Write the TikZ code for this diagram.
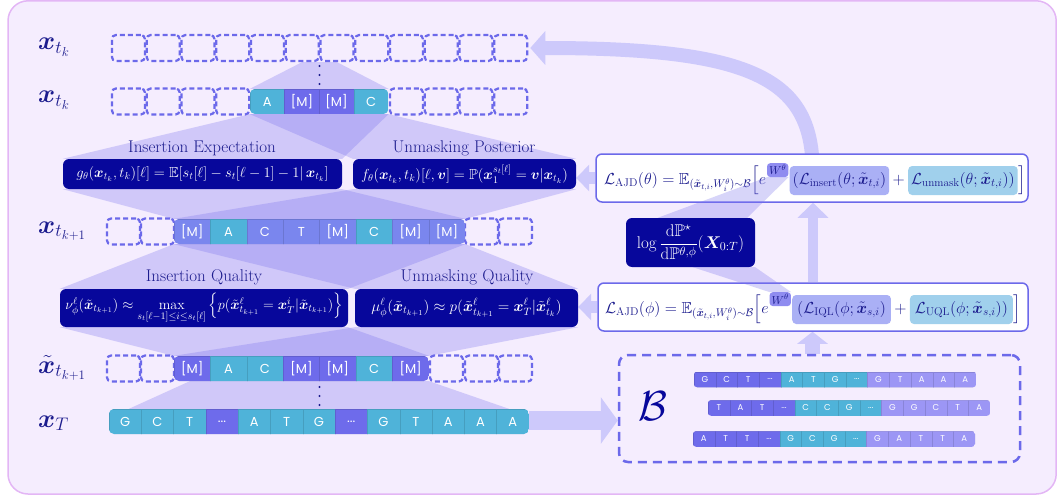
\RequirePackage{fix-cm}
\documentclass[tikz,border=0pt]{standalone}
\usepackage{amsmath,amssymb,bm}
\usepackage{fontspec}
\newfontfamily\tokfont{Poppins}
\usetikzlibrary{arrows.meta,calc}
\definecolor{bgfill}{HTML}{F5EDFE}
\definecolor{bgline}{HTML}{E3B6F5}
\definecolor{navy}{HTML}{07079B}
\definecolor{ink}{HTML}{1C1C8E}
\definecolor{dashc}{HTML}{6C69EA}
\definecolor{tokM}{HTML}{6E6BEB}
\definecolor{tokC}{HTML}{4FB3D9}
\definecolor{tokN}{HTML}{7A86EE}
\definecolor{tokL}{HTML}{9C96F5}
\definecolor{conec}{HTML}{7C75EE}
\definecolor{arrc}{HTML}{CDC9FB}
\definecolor{hlW}{HTML}{8F8CF0}
\definecolor{hlI}{HTML}{AAB0F5}
\definecolor{hlU}{HTML}{A0D0EC}
\pgfdeclarelayer{back}
\pgfdeclarelayer{mid}
\pgfsetlayers{back,mid,main}
\newcommand\eli{...}
\newcommand\tokblock[8]{% name, x0, yc, w, h, n, radius, list
  \begin{scope}
    \clip[rounded corners=#7pt] (#2,#3-#5/2) rectangle ++(#6*#4,#5);
    \foreach[count=\i] \col/\txt in {#8}{
      \node[tok, fill=\col, draw=\col!88!black, minimum width=#4pt, minimum height=#5pt] (#1-\i) at (#2+#4*\i-#4/2, #3) {\txt};
    }
  \end{scope}}
\begin{document}
\begin{tikzpicture}[x=1pt,y=-1pt,
  dbox/.style={draw=dashc, line width=2.2pt, dash pattern=on 5pt off 3pt, rounded corners=4pt, minimum width=33pt, minimum height=26pt, inner sep=0pt},
  tok/.style={inner sep=0pt, line width=0.3pt, text=white, font=\tokfont\fontsize{13}{13}\selectfont},
  darkbox/.style={fill=navy, rounded corners=6pt, text=white, inner sep=0pt, font=\fontsize{14.5}{17}\selectfont},
  cone/.style={fill=conec, fill opacity=0.3},
  lab/.style={text=ink, font=\fontsize{17}{20}\selectfont, inner sep=0pt},
  rowlab/.style={text=ink, font=\fontsize{26}{30}\selectfont, anchor=base west, inner sep=0pt},
  lossbox/.style={draw=dashc, line width=1.5pt, fill=white, rounded corners=6pt, inner sep=0pt},
  fml/.style={text=ink, font=\fontsize{16}{19}\selectfont, inner sep=0pt, anchor=base west},
  hl/.style={rounded corners=4pt, inner xsep=3pt, inner ysep=3pt, text height=15pt, text depth=8pt},
  wsup/.style={text=ink, font=\fontsize{11.5}{13}\selectfont, anchor=base west, fill=hlW, rounded corners=3pt, inner sep=2pt},
  bigarr/.style={draw=arrc},
  dotc/.style={fill=ink, circle, inner sep=0pt, minimum size=2.4pt}
]
\useasboundingbox (0,0) rectangle (1057,500);
\begin{pgfonlayer}{back}
  \fill[bgfill, draw=bgline, line width=1.5pt, rounded corners=20pt] (8,0.8) rectangle (1056.2,494);
\end{pgfonlayer}

% ---------- rows ----------
\foreach \i in {0,...,11} \node[dbox] (ra\i) at (128.4+34.75*\i, 48) {};
\foreach \i in {0,1,2,3,8,9,10,11} \node[dbox] (rb\i) at (128.4+34.75*\i, 101.5) {};
\tokblock{rbt}{250}{101.5}{34.6}{25}{4}{5}{tokC/A, tokM/{[M]}, tokM/{[M]}, tokC/C}

\foreach \x [count=\i] in {123.5,157.5,481.5,515.5} \node[dbox] (rc\i) at (\x, 231.5) {};
\tokblock{rct}{174}{231.5}{36.4}{25}{8}{5}{tokN/{[M]}, tokC/A, tokN/C, tokN/T, tokN/{[M]}, tokC/C, tokN/{[M]}, tokN/{[M]}}

\foreach \x [count=\i] in {123.5,157.5,446.5,481.5,515.5} \node[dbox] (rd\i) at (\x, 368.5) {};
\tokblock{rdt}{174}{368.5}{36.4}{25}{7}{5}{tokM/{[M]}, tokC/A, tokC/C, tokM/{[M]}, tokM/{[M]}, tokC/C, tokM/{[M]}}

\tokblock{re}{109}{421.5}{32.3}{25}{13}{5}{tokC/G, tokC/C, tokC/T, tokM/\eli, tokC/A, tokC/T, tokC/G, tokM/\eli, tokC/G, tokC/T, tokC/A, tokC/A, tokC/A}

\foreach \y [count=\i] in {66,75,84} \node[dotc] (da\i) at (319.5,\y) {};
\foreach \y [count=\i] in {387,396,405} \node[dotc] (db\i) at (319.5,\y) {};

\node[rowlab] (la) at (38,50) {$\bm{x}_{t_k}$};
\node[rowlab] (lb) at (38,103) {$\bm{x}_{t_k}$};
\node[rowlab] (lc) at (38,233) {$\bm{x}_{t_{k+1}}$};
\node[rowlab] (ld) at (38,373) {$\tilde{\bm{x}}_{t_{k+1}}$};
\node[rowlab] (le) at (38,427) {$\bm{x}_T$};

% ---------- dark boxes ----------
\node[darkbox, minimum width=279pt, minimum height=30pt] (gbox) at (202.5,174)
  {$g_\theta(\bm{x}_{t_k},t_k)[\ell]=\mathbb{E}[s_t[\ell]-s_t[\ell-1]-1|\,\bm{x}_{t_k}]$};
\node[darkbox, minimum width=223pt, minimum height=30pt] (fbox) at (464.5,174)
  {$f_\theta(\bm{x}_{t_k},t_k)[\ell,\bm{v}]=\mathbb{P}(\bm{x}_1^{s_t[\ell]}=\bm{v}|\bm{x}_{t_k})$};
\node[darkbox, minimum width=288pt, minimum height=38pt, font=\fontsize{14.2}{17}\selectfont] (nubox) at (204,308)
  {$\nu_\phi^\ell(\tilde{\bm{x}}_{t_{k+1}})\approx\max\limits_{s_t[\ell-1]\le i\le s_t[\ell]}\Big\{p(\tilde{\bm{x}}^\ell_{t_{k+1}}=\bm{x}_T^i|\tilde{\bm{x}}_{t_{k+1}})\Big\}$};
\node[darkbox, minimum width=223pt, minimum height=38pt, font=\fontsize{15.2}{18}\selectfont] (mubox) at (466.5,308)
  {$\mu^\ell_\phi(\tilde{\bm{x}}_{t_{k+1}})\approx p(\tilde{\bm{x}}^\ell_{t_{k+1}}=\bm{x}^\ell_T|\tilde{\bm{x}}^\ell_{t_k})$};
\node[darkbox, minimum width=129pt, minimum height=49pt, font=\fontsize{17}{20}\selectfont] (logbox) at (690.5,242.5)
  {$\log\dfrac{\mathrm{d}\mathbb{P}^\star}{\mathrm{d}\mathbb{P}^{\theta,\phi}}(\bm{X}_{0:T})$};

\node[lab] (tg) at (202,148) {Insertion Expectation};
\node[lab] (tf) at (464,148) {Unmasking Posterior};
\node[lab] (tn) at (204,277) {Insertion Quality};
\node[lab] (tm) at (467,277) {Unmasking Quality};

% ---------- loss boxes ----------
\node[lossbox, minimum width=432pt, minimum height=48pt] (lth) at (812,178) {};
\node[fml] (th1) at (604,184) {$\mathcal{L}_{\mathrm{AJD}}(\theta)=\mathbb{E}_{(\tilde{\bm{x}}_{t,i},W_i^\theta)\sim\mathcal{B}}\Big[e$};
\node[wsup] (th2) at ($(th1.base east)+(0.5,-9)$) {$W^\theta$};
\node[fml, hl, fill=hlI] (th3) at ($(th2.base east |- th1.base)+(1,0)$) {$(\mathcal{L}_{\mathrm{insert}}(\theta;\tilde{\bm{x}}_{t,i})$};
\node[fml] (th4) at ($(th3.base east)+(3,0)$) {$+$};
\node[fml, hl, fill=hlU] (th5) at ($(th4.base east)+(3,0)$) {$\mathcal{L}_{\mathrm{unmask}}(\theta;\tilde{\bm{x}}_{t,i}))$};
\node[fml] (th6) at (th5.base east) {$\Big]$};

\node[lossbox, minimum width=430pt, minimum height=48pt] (lph) at (813,307) {};
\node[fml] (ph1) at (605,313) {$\mathcal{L}_{\mathrm{AJD}}(\phi)=\mathbb{E}_{(\tilde{\bm{x}}_{t,i},W_i^\theta)\sim\mathcal{B}}\Big[e$};
\node[wsup] (ph2) at ($(ph1.base east)+(0.5,-9)$) {$W^\theta$};
\node[fml, hl, fill=hlI, inner xsep=5pt] (ph3) at ($(ph2.base east |- ph1.base)+(1,0)$) {$(\mathcal{L}_{\mathrm{IQL}}(\phi;\tilde{\bm{x}}_{s,i})$};
\node[fml] (ph4) at ($(ph3.base east)+(3,0)$) {$+$};
\node[fml, hl, fill=hlU, inner xsep=5pt] (ph5) at ($(ph4.base east)+(3,0)$) {$\mathcal{L}_{\mathrm{UQL}}(\phi;\tilde{\bm{x}}_{s,i}))$};
\node[fml] (ph6) at (ph5.base east) {$\Big]$};

% wedges from the weight to the log ratio
\fill[cone] (th2.south west) -- (th2.south east) -- ([xshift=-8pt]logbox.north east) -- ([xshift=32pt]logbox.north west) -- cycle;
\fill[cone] (ph2.north west) -- (ph2.north east) -- (logbox.south east) -- ([xshift=67pt]logbox.south west) -- cycle;

% ---------- batch ----------
\node[draw=dashc, line width=2.5pt, dash pattern=on 9pt off 6pt, rounded corners=9pt, minimum width=401pt, minimum height=107pt, inner sep=0pt] (bbox) at (819.5,408.5) {};
\node[text=navy, inner sep=0pt, font=\fontsize{42}{42}\selectfont] (bcal) at (653,406) {$\mathcal{B}$};
\begin{scope}[tok/.append style={font=\tokfont\fontsize{8.5}{9}\selectfont}]
\tokblock{ba}{694}{379.5}{21.7}{15.5}{13}{3}{tokM/G, tokM/C, tokM/T, tokM/\eli, tokC/A, tokC/T, tokC/G, tokC/\eli, tokL/G, tokL/T, tokL/A, tokL/A, tokL/A}
\tokblock{bb}{708}{408}{21.7}{15.5}{13}{3}{tokM/T, tokM/A, tokM/T, tokM/\eli, tokC/C, tokC/C, tokC/G, tokC/\eli, tokL/G, tokL/G, tokL/C, tokL/T, tokL/A}
\tokblock{bc}{693}{439}{21.7}{15.5}{13}{3}{tokM/A, tokM/T, tokM/T, tokM/\eli, tokC/G, tokC/C, tokC/G, tokC/\eli, tokL/G, tokL/A, tokL/T, tokL/T, tokL/A}
\end{scope}

% ---------- cones and arrows (behind) ----------
\begin{pgfonlayer}{mid}
\fill[cone] (ra5.south) -- (ra6.south) -- (rbt-4.north east) -- (rbt-1.north west) -- cycle;
\fill[cone] (rbt-1.south west) -- (rbt-4.south east) -- (gbox.north east) -- (gbox.north west) -- cycle;
\fill[cone] (rbt-1.south west) -- (rbt-4.south east) -- (fbox.north east) -- (fbox.north west) -- cycle;
\fill[cone] (gbox.south west) -- (gbox.south east) -- (rct-8.north east) -- (rct-1.north west) -- cycle;
\fill[cone] (fbox.south west) -- (fbox.south east) -- (rct-8.north east) -- (rct-1.north west) -- cycle;
\fill[cone] (rct-1.south west) -- (rct-8.south east) -- (nubox.north east) -- (nubox.north west) -- cycle;
\fill[cone] (rct-1.south west) -- (rct-8.south east) -- (mubox.north east) -- (mubox.north west) -- cycle;
\fill[cone] (nubox.south west) -- (nubox.south east) -- (rdt-7.north east) -- (rdt-1.north west) -- cycle;
\fill[cone] (mubox.south west) -- (mubox.south east) -- (rdt-7.north east) -- (rdt-1.north west) -- cycle;
\fill[cone] ([xshift=16pt]rdt-1.south west) -- (rdt-7.south east) -- ([xshift=-20pt]re-13.north east) -- ([xshift=20pt]re-1.north west) -- cycle;

\draw[bigarr, line width=19pt, -{Triangle[length=17pt,width=46pt]}] ([yshift=1pt]re-13.east) -- ([yshift=1pt]re-13.east -| bbox.west);
\draw[bigarr, line width=15pt, -{Triangle[length=12pt,width=30pt]}] ([xshift=-7pt]bbox.north) -- ([xshift=-7pt]bbox.north |- lph.south);
\draw[bigarr, line width=10pt, -{Triangle[length=15pt,width=30pt]}] (lph.north) -- (lph.north |- lth.south);
\draw[bigarr, line width=12pt, -{Triangle[length=13pt,width=26pt]}] (lth.west) -- (lth.west -| fbox.east);
\draw[bigarr, line width=12pt, -{Triangle[length=13pt,width=26pt]}] (lph.west) -- (lph.west -| mubox.east);
\draw[bigarr, line width=14pt, -{Triangle[length=15pt,width=33pt]}] ([yshift=-2pt]lth.north) .. controls (805,75) and (740,48) .. ([xshift=2pt]ra11.east);
\end{pgfonlayer}
\end{tikzpicture}
\end{document}
